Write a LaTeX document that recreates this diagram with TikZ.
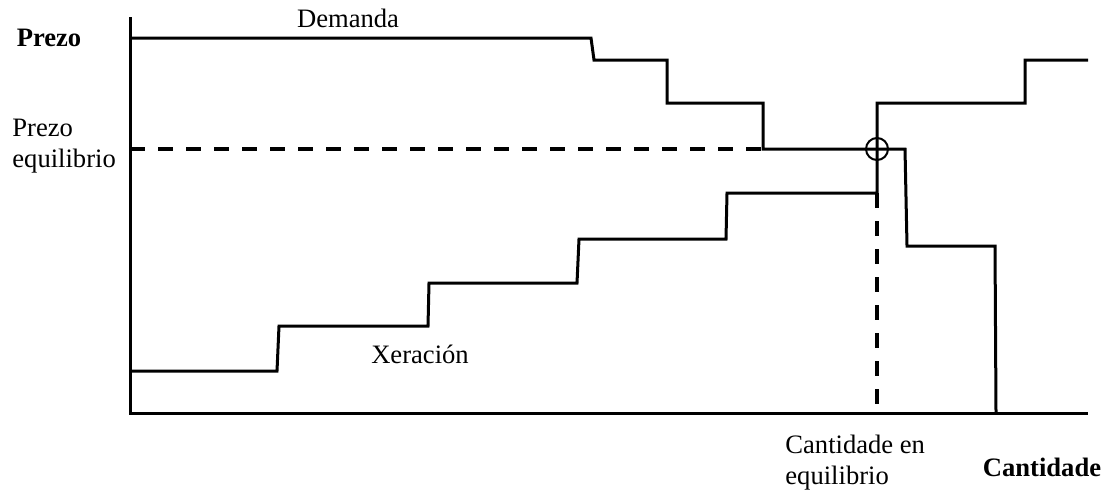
\documentclass[tikz,border=0pt]{standalone}
\usepackage{fontspec}
\setmainfont{Liberation Serif}
\usetikzlibrary{positioning,calc}

\begin{document}
\begin{tikzpicture}[x=0.5pt, y=-0.5pt,
    curve/.style={line width=1.5pt, line join=miter},
    axisline/.style={line width=1.5pt},
    guide/.style={line width=1.6pt, dash pattern=on 7.5pt off 6.5pt},
    lbl/.style={font=\fontsize{13.3}{15.5}\selectfont, inner sep=0pt},
    axislbl/.style={lbl, font=\fontsize{13.3}{15.5}\selectfont\bfseries},
]
\useasboundingbox (0,0) rectangle (1106,494);

% axes
\coordinate (origin) at (130,413);
\coordinate (ytop) at (130,17);
\coordinate (xend) at (1088,413);
\draw[axisline] (ytop) -- (origin) -- (xend);

% equilibrium
\coordinate (eq) at (877,149);
\coordinate (peq) at (origin |- eq);
\coordinate (qeq) at (eq |- origin);
\coordinate (dstep) at (763,149);
\coordinate (sstep) at (877,193);
\draw[guide] (peq) -- (dstep);
\draw[guide] (sstep) -- (qeq);

% demanda
\draw[curve] (130,38) -- (591,38) -- (594,60) -- (667,60) -- (667,103)
    -- (763,103) -- (dstep) -- (905,149) -- (907,246) -- (995,246) -- (996,413);

% xeracion
\draw[curve] (130,371) -- (277,371) -- (279,326) -- (428,326) -- (429,283)
    -- (577,283) -- (579,239) -- (726,239) -- (727,193) -- (sstep)
    -- (877,103) -- (1025,103) -- (1025,60) -- (1088,60);

\draw[line width=1pt] (eq) circle[radius=5.5pt];

% labels
\node[axislbl] (prezo) at (49,38) {Prezo};
\node[lbl] (demanda) at (348,18) {Demanda};
\node[lbl, align=left, anchor=west] (prezoeq) at (12,146) {Prezo\\equilibrio};
\node[lbl] (xeracion) at (420,354) {Xeración};
\node[lbl, align=left, anchor=west] (canteq) at (785,463) {Cantidade en\\equilibrio};
\node[axislbl] (cantidade) at (1042,467) {Cantidade};
\end{tikzpicture}
\end{document}
